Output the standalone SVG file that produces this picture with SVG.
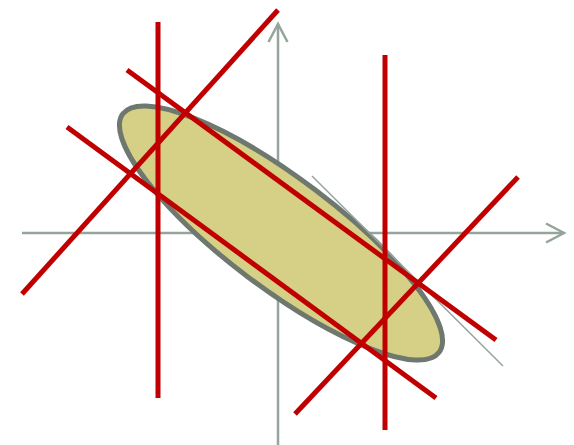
<svg xmlns="http://www.w3.org/2000/svg" width="574" height="445" viewBox="0 0 574 445">
<defs>
<style>
.axis{stroke:#95a59b;stroke-width:2.5;fill:none}
.red{stroke:#c00000;stroke-width:5;fill:none}
.tan{stroke:#95a59b;stroke-width:1.5;fill:none}
</style>
<marker id="arr" viewBox="-20 -12 24 24" markerWidth="24" markerHeight="24" refX="0" refY="0" orient="auto" markerUnits="userSpaceOnUse">
<polyline points="-18,-9.5 0,0 -18,9.5" fill="none" stroke="#95a59b" stroke-width="2.5"/>
</marker>
</defs>
<rect width="574" height="445" fill="#ffffff"/>
<g id="axes">
<line class="axis" x1="22" y1="233" x2="564" y2="233" marker-end="url(#arr)"/>
<line class="axis" x1="278" y1="445" x2="278" y2="24" marker-end="url(#arr)"/>
</g>
<g id="ellipse">
<ellipse cx="281" cy="233" rx="198" ry="55" transform="rotate(37 281 233)" fill="#d5d085" stroke="#6e786f" stroke-width="5"/>
</g>
<g id="connectors">
<line class="tan" x1="312" y1="176" x2="503" y2="366"/>
<line class="red" x1="158" y1="22" x2="158" y2="398"/>
<line class="red" x1="385" y1="55" x2="385" y2="430"/>
<line class="red" x1="22" y1="294" x2="278" y2="10"/>
<line class="red" x1="295" y1="414" x2="518" y2="177"/>
<line class="red" x1="127" y1="70" x2="496" y2="340"/>
<line class="red" x1="67" y1="127" x2="436" y2="398"/>
</g>
</svg>
